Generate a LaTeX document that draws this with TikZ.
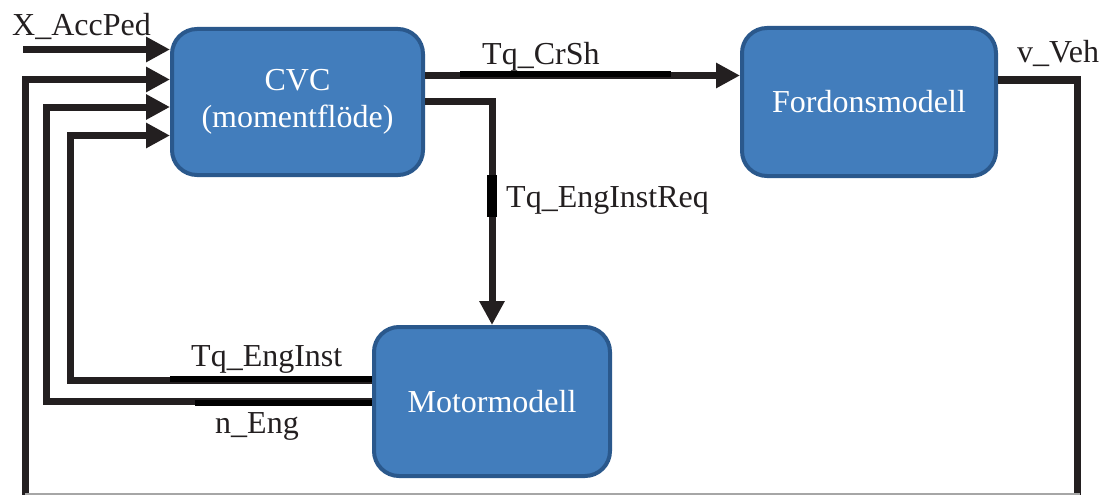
\documentclass[tikz,border=0pt]{standalone}
\usepackage{fontspec}
\setmainfont{Liberation Serif}
\usetikzlibrary{arrows.meta}
\definecolor{boxfill}{RGB}{66,125,188}
\definecolor{boxline}{RGB}{42,88,140}
\definecolor{wirec}{RGB}{35,31,32}
\begin{document}
\begin{tikzpicture}[x=1pt,y=-1pt,
  blk/.style={draw=boxline, fill=boxfill, line width=4pt, rounded corners=25pt,
    text=white, font=\fontsize{32}{37}\selectfont, align=center, inner sep=0pt},
  wire/.style={draw=wirec, line width=7pt},
  arr/.style={-{Triangle[length=24pt,width=24pt]}},
  lbl/.style={text=wirec, font=\fontsize{32}{37}\selectfont, inner sep=0pt, anchor=base west},
  tag/.style={draw=black, line width=6pt}]
\useasboundingbox (0,0) rectangle (1103,495);
\clip (0,0) rectangle (1103,495);

% blocks
\node[blk, minimum width=251pt, minimum height=146pt] (cvc) at (297.5,102) {CVC\\(momentflöde)};
\node[blk, minimum width=254pt, minimum height=148pt] (veh) at (869,102) {Fordonsmodell};
\node[blk, minimum width=236pt, minimum height=149pt] (eng) at (492,401.5) {Motormodell};

% free end
\coordinate (acc) at (23,49.5);

% connectors
\draw[wire,arr] (acc) -- (cvc.west |- 0,49.5);
\draw[wire,arr] (veh.east |- 0,80) -- (1077,80) -- (1077,520) -- (25.5,520) -- (25.5,79.5) -- (cvc.west |- 0,79.5);
\draw[wire,arr] (eng.west |- 0,401) -- (46.5,401) -- (46.5,107) -- (cvc.west |- 0,107);
\draw[wire,arr] (eng.west |- 0,380) -- (70.5,380) -- (70.5,135.5) -- (cvc.west |- 0,135.5);
\draw[wire,arr] (cvc.east |- 0,75.5) -- (veh.west |- 0,75.5);
\draw[wire,arr] (cvc.east |- 0,101.5) -- (492,101.5) -- (eng.north);

% label markers
\draw[tag] (460,74.5) -- (671,74.5);
\draw[tag, line width=10pt] (492,175) -- (492,217);
\draw[tag] (170,379) -- (eng.west |- 0,379);
\draw[tag] (195,402.5) -- (eng.west |- 0,402.5);

% bottom rule
\draw[gray!70, line width=1.2pt] (25,494) -- (1080,494);

% labels
\node[lbl] (lacc) at (12,36) {X\_AccPed};
\node[lbl] (lcrsh) at (482,65) {Tq\_CrSh};
\node[lbl] (lreq) at (506,207) {Tq\_EngInstReq};
\node[lbl] (linst) at (191,366) {Tq\_EngInst};
\node[lbl] (lneng) at (215,433) {n\_Eng};
\node[lbl] (lveh) at (1017,63) {v\_Veh};
\end{tikzpicture}
\end{document}
